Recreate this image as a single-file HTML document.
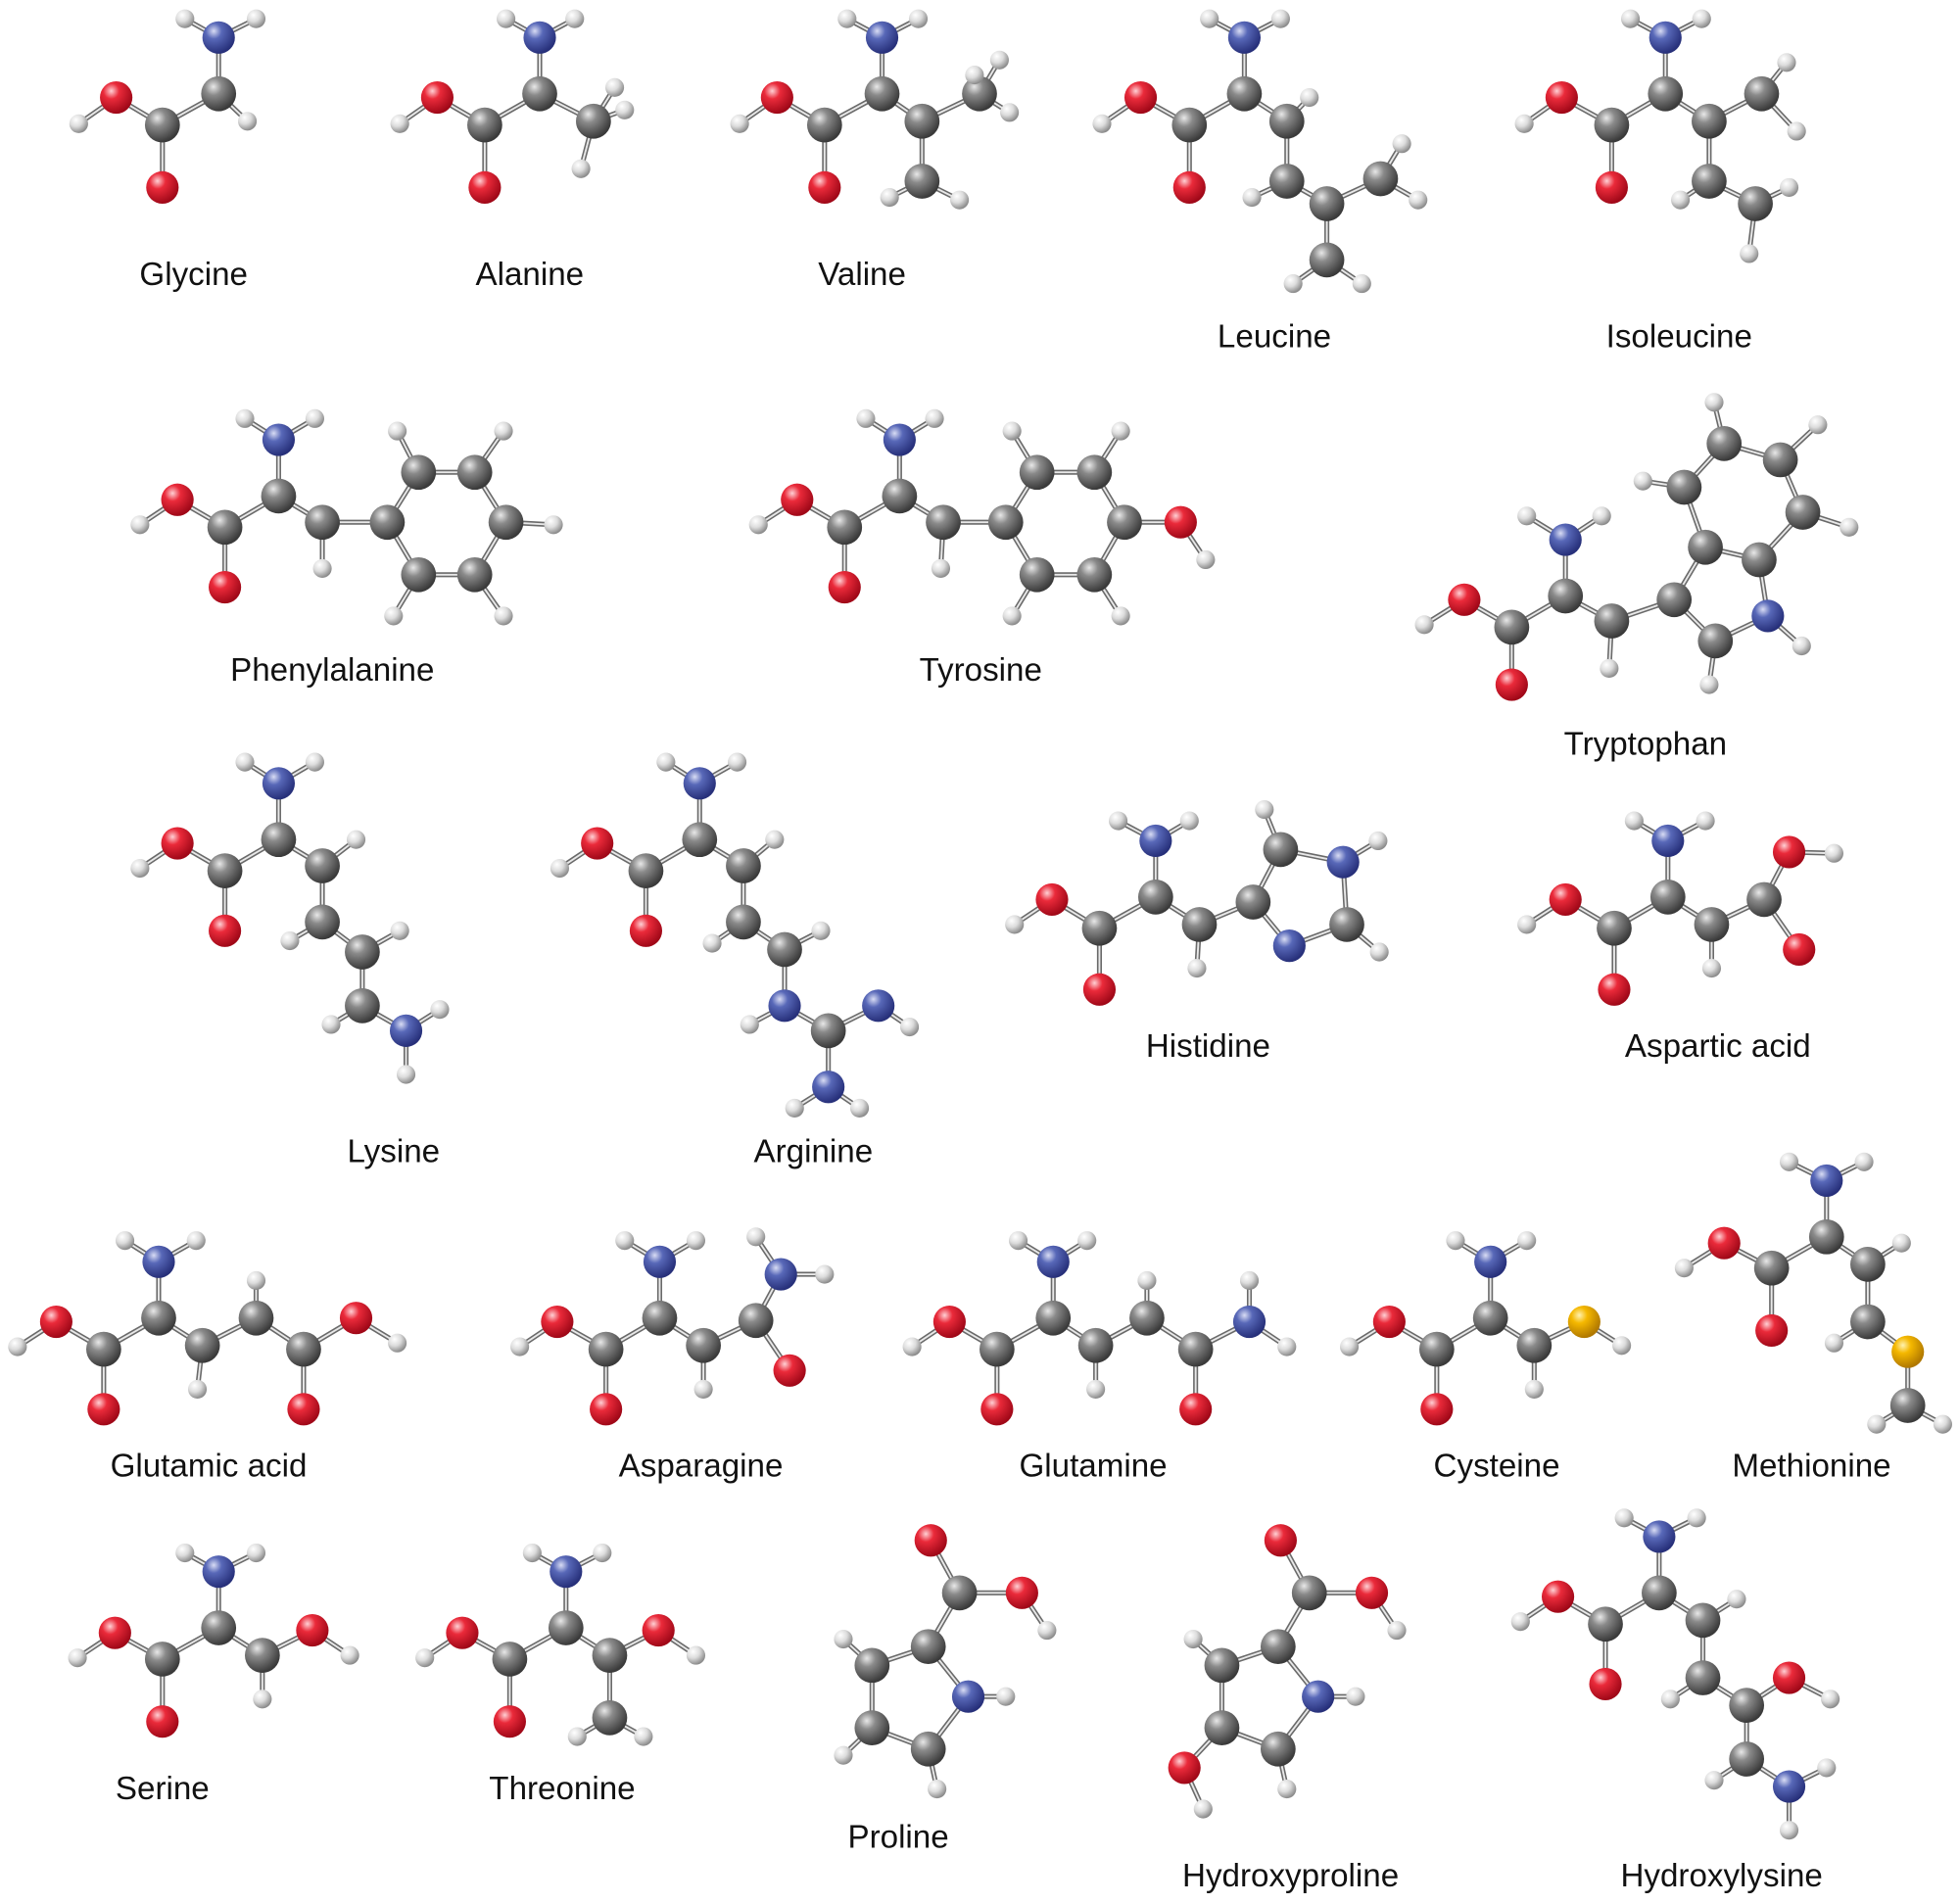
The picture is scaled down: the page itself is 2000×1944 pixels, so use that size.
<!DOCTYPE html>
<html><head><meta charset="utf-8"><style>
html,body{margin:0;padding:0;background:#fff;}
svg{display:block;}
text{font-family:"Liberation Sans",sans-serif;font-size:26px;fill:#111;text-anchor:middle;}
</style></head><body>
<svg id="s" width="2000" height="1944" viewBox="0 0 1568 1524" xmlns="http://www.w3.org/2000/svg">
<defs>
<radialGradient id="gC" cx="35%" cy="30%" r="70%"><stop offset="0" stop-color="#e8e8e8"/><stop offset="0.35" stop-color="#8a8a8a"/><stop offset="1" stop-color="#3a3a3a"/></radialGradient>
<radialGradient id="gO" cx="35%" cy="30%" r="70%"><stop offset="0" stop-color="#ffd0d4"/><stop offset="0.35" stop-color="#ea2a3a"/><stop offset="1" stop-color="#a00818"/></radialGradient>
<radialGradient id="gN" cx="35%" cy="30%" r="70%"><stop offset="0" stop-color="#d8dcf4"/><stop offset="0.35" stop-color="#5868b8"/><stop offset="1" stop-color="#27307a"/></radialGradient>
<radialGradient id="gS" cx="35%" cy="30%" r="70%"><stop offset="0" stop-color="#fff2b0"/><stop offset="0.35" stop-color="#f5b800"/><stop offset="1" stop-color="#b07800"/></radialGradient>
<radialGradient id="gH" cx="35%" cy="30%" r="70%"><stop offset="0" stop-color="#ffffff"/><stop offset="0.5" stop-color="#dcdcdc"/><stop offset="1" stop-color="#8c8c8c"/></radialGradient>
</defs>
<g id="b"></g><g id="a"></g>
<text x="155" y="228">Glycine</text>
<text x="424" y="228">Alanine</text>
<text x="690" y="228">Valine</text>
<text x="1020" y="278">Leucine</text>
<text x="1344" y="278">Isoleucine</text>
<text x="266" y="545">Phenylalanine</text>
<text x="785" y="545">Tyrosine</text>
<text x="1317" y="604">Tryptophan</text>
<text x="315" y="930">Lysine</text>
<text x="651" y="930">Arginine</text>
<text x="967" y="846">Histidine</text>
<text x="1375" y="846">Aspartic acid</text>
<text x="167" y="1182">Glutamic acid</text>
<text x="561" y="1182">Asparagine</text>
<text x="875" y="1182">Glutamine</text>
<text x="1198" y="1182">Cysteine</text>
<text x="1450" y="1182">Methionine</text>
<text x="130" y="1440">Serine</text>
<text x="450" y="1440">Threonine</text>
<text x="719" y="1479">Proline</text>
<text x="1033" y="1510">Hydroxyproline</text>
<text x="1378" y="1510">Hydroxylysine</text>
</svg>
<script>
var M=[
"N 175 30;H 148 15;H 205 15;C 175 75;H 198 97;C 130 100;O 93 78;H 63 99;O 130 150",
"N 432 30;H 405 15;H 460 15;C 432 75;C 475 97;H 465 135;H 500 88;H 492 70;C 388 100;O 350 78;H 320 99;O 388 150",
"N 706 30;H 678 15;H 735 15;C 706 75;C 660 100;O 622 78;H 592 99;O 660 150;C 738 97;C 784 75;H 800 48;H 808 90;H 780 60;C 738 145;H 712 158;H 768 160",
"N 996 30;H 968 15;H 1025 15;C 996 75;C 952 100;O 913 78;H 882 99;O 952 150;C 1030 97;H 1048 78;C 1030 145;H 1002 158;C 1062 163;C 1105 143;H 1122 115;H 1135 160;C 1062 208;H 1035 227;H 1090 227",
"N 1333 30;H 1305 15;H 1362 15;C 1333 75;C 1290 100;O 1250 78;H 1220 99;O 1290 150;C 1368 97;C 1410 75;H 1430 50;H 1438 105;C 1368 145;H 1345 160;C 1405 163;H 1432 150;H 1400 203",
"N 223 352;H 196 335;H 252 335;C 223 397;C 180 422;O 142 400;H 112 420;O 180 470;C 258 418;H 258 455;C 310 418;C 335 378;C 380 378;C 405 418;C 380 460;C 335 460;H 318 345;H 403 345;H 443 420;H 403 493;H 315 493",
"N 720 352;H 693 335;H 748 335;C 720 397;C 676 422;O 638 400;H 607 420;O 676 470;C 755 418;H 753 455;C 805 418;C 830 378;C 876 378;C 900 418;C 876 460;C 830 460;O 945 418;H 965 448;H 810 345;H 897 345;H 810 493;H 897 493",
"N 1253 432;H 1222 413;H 1282 413;C 1253 477;C 1210 502;O 1172 480;H 1140 500;O 1210 548;C 1290 497;H 1288 535;C 1340 480;C 1365 438;C 1373 513;H 1368 548;N 1415 493;H 1442 517;C 1408 448;C 1348 390;H 1315 385;C 1380 355;H 1372 322;C 1425 368;H 1455 340;C 1443 410;H 1480 422",
"N 223 627;H 196 610;H 252 610;C 223 672;C 180 697;O 142 675;H 112 695;O 180 745;C 258 693;H 285 672;C 258 738;H 232 753;C 290 762;H 320 745;C 290 805;H 265 820;N 325 825;H 352 808;H 325 860",
"N 560 627;H 533 610;H 590 610;C 560 672;C 517 697;O 478 675;H 448 695;O 517 745;C 595 693;H 620 672;C 595 738;H 570 755;C 628 760;H 657 745;N 628 805;H 600 820;C 663 825;N 703 805;H 728 822;N 663 870;H 636 887;H 688 887",
"N 925 673;H 895 657;H 952 657;C 925 718;C 880 743;O 842 720;H 812 740;O 880 792;C 960 740;H 958 775;C 1003 722;C 1025 680;H 1012 648;N 1075 690;H 1103 673;C 1078 740;H 1104 762;N 1032 757",
"N 1335 673;H 1308 657;H 1365 657;C 1335 718;C 1292 743;O 1253 720;H 1222 740;O 1292 792;C 1370 740;H 1370 775;C 1412 720;O 1432 682;H 1468 683;O 1440 760",
"N 127 1010;H 100 993;H 157 993;C 127 1055;C 83 1080;O 45 1058;H 14 1078;O 83 1128;C 162 1077;H 158 1112;C 205 1055;H 205 1025;C 243 1080;O 285 1055;H 318 1075;O 243 1128",
"N 528 1010;H 500 993;H 557 993;C 528 1055;C 485 1080;O 446 1058;H 416 1078;O 485 1128;C 563 1077;H 563 1112;C 605 1057;N 625 1020;H 605 990;H 660 1020;O 632 1097",
"N 843 1010;H 815 993;H 870 993;C 843 1055;C 798 1080;O 760 1058;H 730 1078;O 798 1128;C 877 1077;H 877 1112;C 918 1055;H 918 1025;C 957 1080;N 1000 1058;H 1000 1025;H 1030 1078;O 957 1128",
"N 1193 1010;H 1165 993;H 1222 993;C 1193 1055;C 1150 1080;O 1112 1058;H 1080 1078;O 1150 1128;C 1228 1077;H 1228 1112;S 1268 1058;H 1298 1077",
"N 1462 945;H 1432 930;H 1492 930;C 1462 990;C 1418 1015;O 1380 995;H 1348 1015;O 1418 1065;C 1495 1012;H 1522 995;C 1495 1058;H 1468 1075;S 1527 1082;C 1527 1125;H 1502 1140;H 1555 1140",
"N 175 1258;H 148 1243;H 205 1243;C 175 1303;C 130 1328;O 92 1307;H 62 1327;O 130 1378;C 210 1325;H 210 1360;O 250 1305;H 280 1325",
"N 453 1258;H 426 1243;H 482 1243;C 453 1303;C 408 1328;O 370 1307;H 340 1327;O 408 1378;C 488 1325;O 527 1305;H 557 1325;C 488 1375;H 462 1390;H 515 1390",
"C 743 1318;C 768 1275;O 745 1233;O 818 1275;H 838 1305;N 775 1358;H 805 1358;C 743 1400;H 750 1432;C 698 1383;H 675 1405;C 698 1333;H 675 1312",
"C 1023 1318;C 1048 1275;O 1025 1233;O 1098 1275;H 1118 1305;N 1055 1358;H 1085 1358;C 1023 1400;H 1030 1432;C 978 1383;O 948 1415;H 963 1448;C 978 1333;H 955 1312",
"N 1328 1230;H 1300 1215;H 1358 1215;C 1328 1275;C 1285 1300;O 1247 1278;H 1217 1298;O 1285 1348;C 1363 1297;H 1390 1280;C 1363 1343;H 1337 1360;C 1398 1365;O 1432 1343;H 1465 1360;C 1398 1408;H 1372 1425;N 1432 1430;H 1462 1415;H 1432 1465"
];
var R={C:14,O:13,N:13,S:13,H:7.5};
var NS="http://www.w3.org/2000/svg",gb=document.getElementById('b'),ga=document.getElementById('a');
function el(p,t,o){var e=document.createElementNS(NS,t);for(var k in o)e.setAttribute(k,o[k]);p.appendChild(e);return e;}
M.forEach(function(m){
 var A=m.split(';').map(function(s){var p=s.trim().split(/\s+/);return {t:p[0],x:+p[1],y:+p[2]};});
 for(var i=0;i<A.length;i++)for(var j=i+1;j<A.length;j++){
  var a=A[i],b=A[j];if(a.t=='H'&&b.t=='H')continue;
  var d=Math.hypot(a.x-b.x,a.y-b.y),th=(a.t=='H'||b.t=='H')?45:62;
  if(d<th){el(gb,'line',{x1:a.x,y1:a.y,x2:b.x,y2:b.y,stroke:'#6a6a6a','stroke-width':4});
   el(gb,'line',{x1:a.x,y1:a.y,x2:b.x,y2:b.y,stroke:'#e8e8e8','stroke-width':1.5});}
 }
 A.forEach(function(a){el(ga,'circle',{cx:a.x,cy:a.y,r:R[a.t],fill:'url(#g'+a.t+')'});});
});
</script>
</body></html>
